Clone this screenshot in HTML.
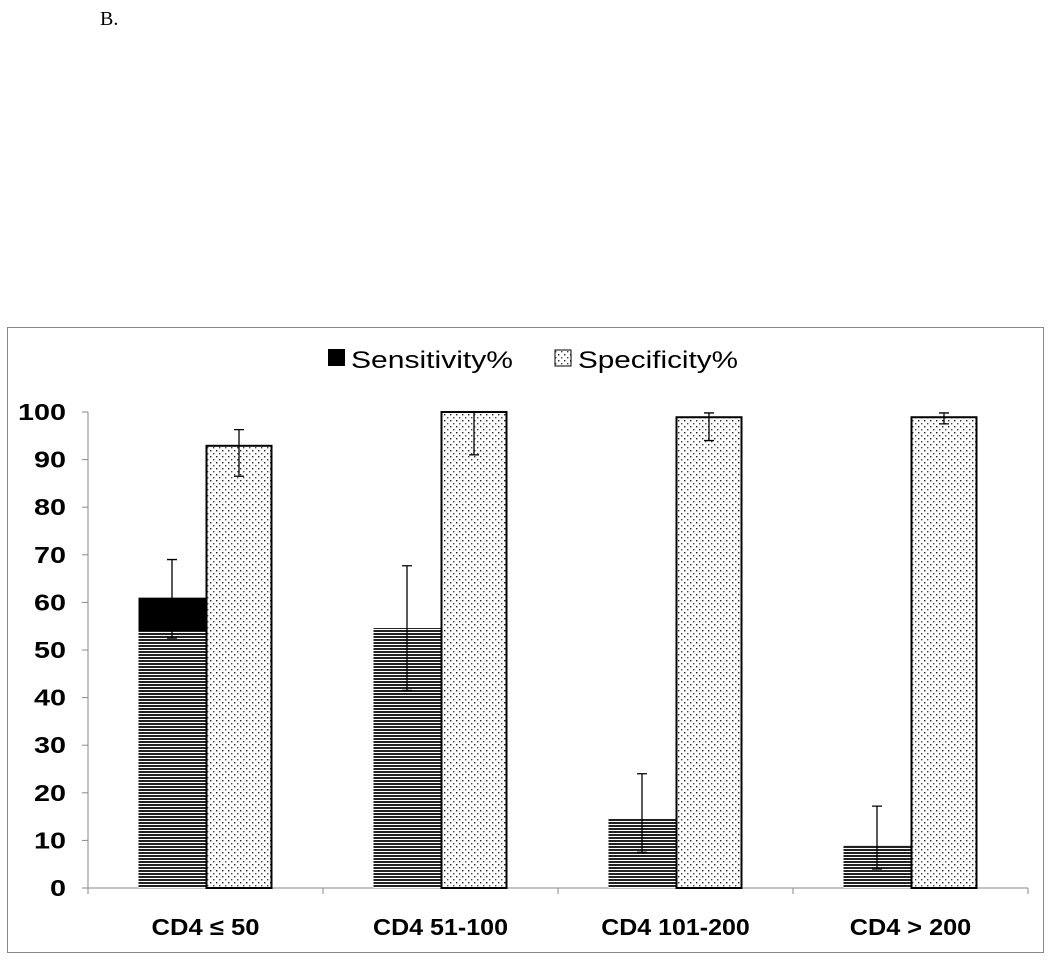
<!DOCTYPE html>
<html><head><meta charset="utf-8"><style>
body{margin:0;background:#fff;width:1050px;height:956px;overflow:hidden;font-family:"Liberation Sans",sans-serif}
</style></head><body>
<svg width="1050" height="956">
<defs>
<pattern id="stripes" width="4" height="3" patternUnits="userSpaceOnUse"><rect width="4" height="3" fill="#fff"/><rect width="4" height="2" fill="#222"/></pattern>
<pattern id="dots" width="6" height="6" patternUnits="userSpaceOnUse"><rect width="6" height="6" fill="#fff"/><rect x="0" y="0" width="1.4" height="1.4" fill="#222"/><rect x="3" y="3" width="1.4" height="1.4" fill="#444"/></pattern>
</defs>
<text x="100" y="25" font-family="Liberation Serif" font-size="20">B.</text>
<rect x="7.5" y="327.5" width="1036" height="625" fill="none" stroke="#888"/>
<g>
<rect x="328" y="349" width="17" height="17" fill="#000"/>
<text x="351" y="368" font-size="24" textLength="162" lengthAdjust="spacingAndGlyphs">Sensitivity%</text>
<rect x="555" y="350" width="16" height="16" fill="url(#dots)" stroke="#000"/>
<text x="578" y="368" font-size="24" textLength="160" lengthAdjust="spacingAndGlyphs">Specificity%</text>
</g>
<g id="plot"></g>
</svg>
<script>
const categories=["CD4 \u2264 50","CD4 51-100","CD4 101-200","CD4 > 200"];
const sensitivity=[61,54.6,14.5,9];
const sensLow=[52.5,41.5,7.5,4];
const sensHigh=[69,67.7,24,17.2];
const specificity=[92.9,100,98.9,98.9];
const specLow=[86.5,91,94,97.5];
const specHigh=[96.3,100,99.8,99.8];
const sensStripeTop=[54,54.6,14.5,9];
const yTicks=[0,10,20,30,40,50,60,70,80,90,100];
const NS="http://www.w3.org/2000/svg";
const g=document.getElementById('plot');
const x0=88,x1=1028,y0=888,yTop=412;
const y=v=>y0-(y0-yTop)*v/100;
const band=(x1-x0)/categories.length;
const cx=i=>x0+band*(i+0.5);
const bw=67;
function el(t,a){const e=document.createElementNS(NS,t);for(const k in a)e.setAttribute(k,a[k]);g.appendChild(e);return e;}
let e=el('line',{x1:x0,y1:yTop,x2:x0,y2:y0,stroke:'#888'});


e=el('line',{x1:x0,y1:y0,x2:x1,y2:y0,stroke:'#888'});


yTicks.forEach(t=>{
 const l=el('line',{x1:x0-6,y1:y(t),x2:x0,y2:y(t),stroke:'#888'});
 
 
 const s=String(t);
 const tx=el('text',{x:x0-22,y:y(t)+8,'text-anchor':'end','font-size':'23','font-weight':'bold',textLength:16*s.length,lengthAdjust:'spacingAndGlyphs'});
 tx.textContent=t;
 
 
});
for(let i=0;i<=categories.length;i++){
 const l=el('line',{x1:x0+band*i,y1:y0,x2:x0+band*i,y2:y0+6,stroke:'#888'});
 
 
}
function err(xc,lo,hi){
 const a=el('path',{d:`M${xc},${y(lo)}V${y(hi)}M${xc-5},${y(lo)}H${xc+5}M${xc-5},${y(hi)}H${xc+5}`,stroke:'#000','stroke-width':'1.3',fill:'none'});
 
 
}
categories.forEach((c,i)=>{
 const xs=cx(i)-bw;
 const st=Math.min(sensStripeTop[i],sensitivity[i]);
 let r=el('rect',{x:xs,y:y(sensitivity[i]),width:bw,height:y0-y(sensitivity[i]),fill:'#000'});
 
 
 const s=el('rect',{x:xs,y:y(st),width:bw,height:y0-y(st),fill:'url(#stripes)'});
 
 
 const r2=el('rect',{x:cx(i)+1,y:y(specificity[i]),width:bw-2,height:y0-y(specificity[i]),fill:'url(#dots)',stroke:'#000','stroke-width':'2'});
 
 
 err(cx(i)-bw/2,sensLow[i],sensHigh[i]);
 err(cx(i)+bw/2,specLow[i],specHigh[i]);
 const t=el('text',{x:cx(i),y:935,'text-anchor':'middle','font-size':'23','font-weight':'bold',textLength:13.5*c.length,lengthAdjust:'spacingAndGlyphs'});
 t.textContent=c;
 
 
});
</script>
</body></html>
